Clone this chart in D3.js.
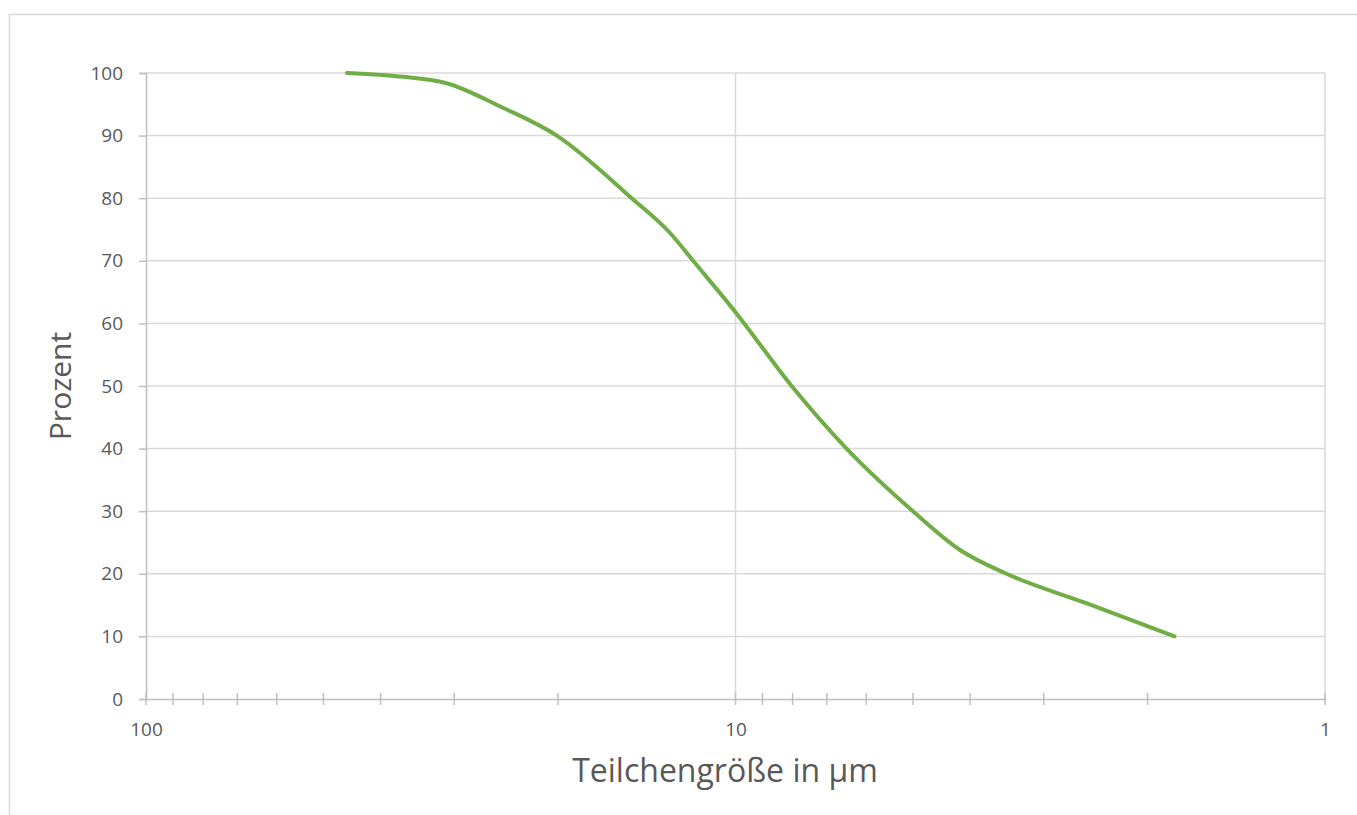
<!DOCTYPE html>
<html>
<head>
<meta charset="utf-8">
<script src="https://cdn.jsdelivr.net/npm/d3@7"></script>
<style>
  body { margin: 0; background: #fff; }
  svg { display: block; font-family: "Open Sans", "Noto Sans", sans-serif; }
</style>
</head>
<body>
<svg id="chart" width="1357" height="815"></svg>
<script>
// particle size in µm and cumulative percent
const sizes   = [45.6, 40, 36.6, 31, 25, 20.1, 15, 12.9, 11.8, 10, 8.03, 6.48, 5, 4.16, 3.47, 2.54, 1.8];
const percent = [100, 99.7, 99.4, 98.4, 94.6, 90, 80, 74.4, 70, 61.8, 50, 40, 30, 23.8, 20, 15.3, 10];

const xMajor = [100, 10, 1];
const xMinor = [90, 80, 70, 60, 50, 40, 30, 20, 9, 8, 7, 6, 5, 4, 3, 2];
const yTicks = [0, 10, 20, 30, 40, 50, 60, 70, 80, 90, 100];

const xTitle = "Teilchengröße in µm";
const yTitle = "Prozent";

const margin = { top: 73, right: 32, bottom: 116, left: 146 };
const W = 1357, H = 815;
const width = W - margin.left - margin.right;
const height = H - margin.top - margin.bottom;
const fontFamily = '"Open Sans", "Noto Sans", sans-serif';

const svg = d3.select("#chart");

// outer chart frame (cropped at right and bottom)
svg.append("path")
    .attr("d", `M9.5,${H + 2} V14.5 H${W + 2}`)
    .attr("fill", "none")
    .attr("stroke", "#d9d9d9")
    .attr("stroke-width", 1.5);

const g = svg.append("g")
    .attr("transform", `translate(${margin.left},${margin.top})`);

// log scale, reversed: 100 on the left, 1 on the right
const x = d3.scaleLog()
    .domain([100, 1])
    .range([0, width]);

const y = d3.scaleLinear()
    .domain([0, 100])
    .range([height, 0]);

// horizontal gridlines
g.append("g")
    .selectAll("line")
    .data(yTicks.filter(d => d > 0))
    .enter()
    .append("line")
    .attr("x1", 0)
    .attr("x2", width)
    .attr("y1", d => y(d))
    .attr("y2", d => y(d))
    .attr("stroke", "#d9d9d9")
    .attr("stroke-width", 1.5);

// vertical gridlines at the decades
g.append("g")
    .selectAll("line")
    .data(xMajor.filter(d => d < 100))
    .enter()
    .append("line")
    .attr("x1", d => x(d))
    .attr("x2", d => x(d))
    .attr("y1", 0)
    .attr("y2", height)
    .attr("stroke", "#d9d9d9")
    .attr("stroke-width", 1.5);

// y axis
const yAxis = g.append("g")
    .call(d3.axisLeft(y).tickValues(yTicks).tickSize(7).tickPadding(16))
    .attr("font-family", fontFamily)
    .attr("font-size", 19);
yAxis.select(".domain").attr("stroke", "#bfbfbf").attr("stroke-width", 1.5);
yAxis.selectAll(".tick line").attr("stroke", "#bfbfbf").attr("stroke-width", 1.5);
yAxis.selectAll("text").attr("fill", "#595959");

// x axis
const xAxis = g.append("g")
    .attr("transform", `translate(0,${height})`)
    .call(d3.axisBottom(x).tickValues(xMajor).tickFormat(d3.format("d")).tickSize(0).tickPadding(24))
    .attr("font-family", fontFamily)
    .attr("font-size", 19);
xAxis.select(".domain").attr("stroke", "#bfbfbf").attr("stroke-width", 1.5);
xAxis.selectAll("text").attr("fill", "#595959");

// ticks crossing the x axis
xAxis.selectAll("line.cross")
    .data(xMajor.concat(xMinor))
    .enter()
    .append("line")
    .attr("class", "cross")
    .attr("x1", d => x(d))
    .attr("x2", d => x(d))
    .attr("y1", -6)
    .attr("y2", 6)
    .attr("stroke", "#bfbfbf")
    .attr("stroke-width", 1.5);

// the curve
const line = d3.line()
    .x((d, i) => x(sizes[i]))
    .y(d => y(d))
    .curve(d3.curveMonotoneX);

g.append("path")
    .datum(percent)
    .attr("d", line)
    .attr("fill", "none")
    .attr("stroke", "#70ad47")
    .attr("stroke-width", 4)
    .attr("stroke-linecap", "round");

// axis titles
svg.append("text")
    .attr("x", 725)
    .attr("y", 782)
    .attr("text-anchor", "middle")
    .attr("fill", "#595959")
    .style("font-size", "32px")
    .text(xTitle);

svg.append("text")
    .attr("transform", `translate(71,${margin.top + height / 2}) rotate(-90)`)
    .attr("text-anchor", "middle")
    .attr("fill", "#595959")
    .style("font-size", "30px")
    .text(yTitle);
</script>
</body>
</html>
